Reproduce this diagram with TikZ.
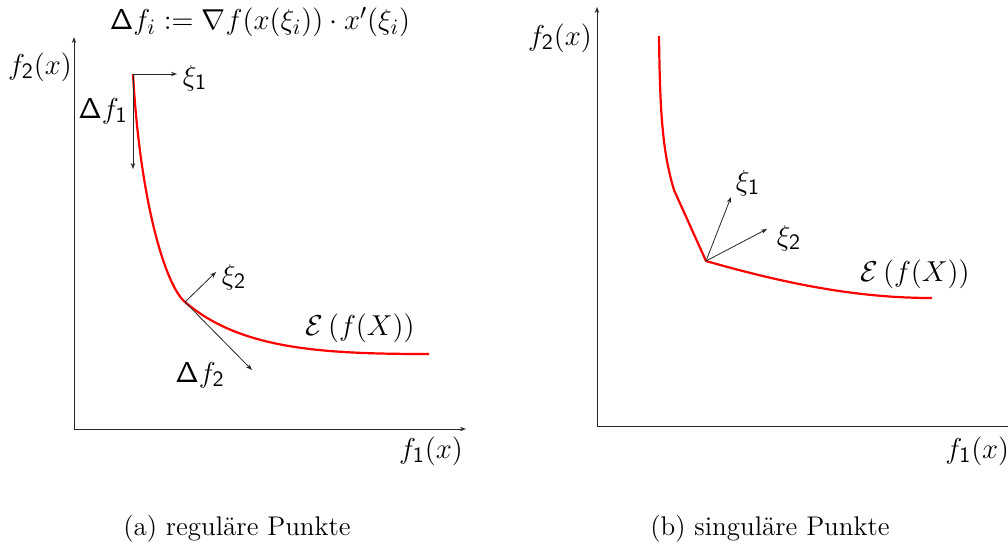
\documentclass[tikz,border=0pt]{standalone}
\usetikzlibrary{arrows.meta}
\DeclareMathAlphabet{\msf}{OT1}{cmss}{m}{n}
\DeclareMathSizes{14}{14}{10.8}{8}
\begin{document}
\begin{tikzpicture}[x=0.5pt,y=-0.5pt,
  axis/.style={line width=0.5pt, black!85, -{Stealth[length=3pt,width=2.2pt]}},
  vec/.style={line width=0.4pt, black!85, -{Stealth[length=3pt,width=2.2pt]}},
  front/.style={line width=1.1pt, red},
  lbl/.style={inner sep=0pt, font=\fontsize{14}{17}\selectfont},
  captxt/.style={inner sep=0pt, font=\fontsize{13.5}{16}\selectfont}]
\useasboundingbox (0,0) rectangle (1008,548);
% ---------- left plot ----------
\coordinate (LO) at (74,429);
\coordinate (LY) at (74,37);
\coordinate (LX) at (466,429);
\draw[axis] (LO) -- (LY);
\draw[axis] (LO) -- (LX);
\coordinate (P1) at (133,74);
\coordinate (P2) at (185,302);
\coordinate (LE) at (429,354);
\coordinate (X1) at (177,74);
\coordinate (D1) at (133,169);
\coordinate (X2) at (216,272);
\coordinate (D2) at (252,370);
\draw[front] (P1) .. controls (140,200) and (165,285) .. (P2)
  .. controls (240,349) and (320,354) .. (LE);
\draw[vec] (P1) -- (X1);
\draw[vec] (P1) -- (D1);
\draw[vec] (P2) -- (X2);
\draw[vec] (P2) -- (D2);
\node[lbl] (title) at (260,22) {$\msf{\Delta} f_i := \nabla f(x(\xi_i))\cdot x'(\xi_i)$};
\node[lbl] (lf2) at (40,67) {$f_{\msf{2}}(x)$};
\node[lbl] (lf1) at (431,451) {$f_{\msf{1}}(x)$};
\node[lbl] (lxi1) at (195,78) {$\xi_{\msf{1}}$};
\node[lbl] (ld1) at (103,111) {$\msf{\Delta} f_{\msf{1}}$};
\node[lbl] (lxi2) at (234,277) {$\xi_{\msf{2}}$};
\node[lbl] (ld2) at (200,375) {$\msf{\Delta} f_{\msf{2}}$};
\node[lbl] (lE) at (360,328) {$\mathcal{E}\left(f(X)\right)$};
\node[captxt] (capa) at (237,529) {(a) reguläre Punkte};
% ---------- right plot ----------
\coordinate (RO) at (597,426);
\coordinate (RY) at (597,7);
\coordinate (RX) at (1020,426);
\draw[axis] (RO) -- (RY);
\draw[line width=0.5pt, black!85] (RO) -- (RX);
\coordinate (Q0) at (659,36);
\coordinate (Qk) at (674,190);
\coordinate (Q) at (706,261);
\coordinate (RE) at (932,298);
\coordinate (Y1) at (731,197);
\coordinate (Y2) at (767,229);
\draw[front, line join=round] (Q0) .. controls (660,110) and (662,150) .. (Qk) -- (Q)
  .. controls (790,285) and (860,298) .. (RE);
\draw[vec] (Q) -- (Y1);
\draw[vec] (Q) -- (Y2);
\node[lbl] (rf2) at (560,38) {$f_{\msf{2}}(x)$};
\node[lbl, anchor=west] (rf1) at (945,451) {$f_{\msf{1}}(x)$};
\node[lbl] (rxi1) at (748,183) {$\xi_{\msf{1}}$};
\node[lbl] (rxi2) at (789,238) {$\xi_{\msf{2}}$};
\node[lbl] (rE) at (915,274) {$\mathcal{E}\left(f(X)\right)$};
\node[captxt] (capb) at (770,529) {(b) singuläre Punkte};
\end{tikzpicture}
\end{document}
